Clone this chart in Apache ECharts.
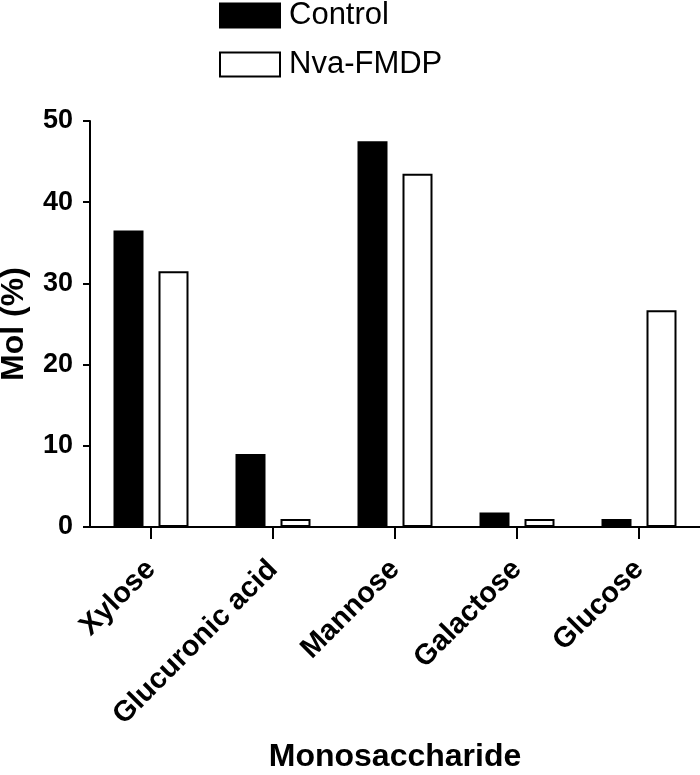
<!DOCTYPE html>
<html>
<head>
<meta charset="utf-8">
<script src="https://cdn.jsdelivr.net/npm/echarts@6/dist/echarts.min.js"></script>
<style>html,body{margin:0;padding:0;background:#fff;}#c{width:700px;height:775px;}</style>
</head>
<body>
<div id="c"></div>
<script>
const categories = ['Xylose', 'Glucuronic acid', 'Mannose', 'Galactose', 'Glucose'];
const controlValues = [36.5, 9.0, 47.5, 1.8, 1.0];
const nvaValues = [31.5, 1.0, 43.5, 1.0, 26.7];
const yTicks = [0, 10, 20, 30, 40, 50];
const seriesNames = ['Control', 'Nva-FMDP'];

const FONT = 'Arial, "Liberation Sans", sans-serif';
const chart = echarts.init(document.getElementById('c'), null, {renderer: 'canvas'});
chart.setOption({
  animation: false,
  backgroundColor: '#fff',
  legend: {
    orient: 'vertical',
    left: 219,
    top: 0,
    padding: 0,
    itemWidth: 60,
    itemHeight: 24,
    itemGap: 18,
    textStyle: {fontFamily: FONT, fontSize: 31, color: '#000', lineHeight: 24, padding: [0, 0, 0, 4]},
    data: [
      {name: seriesNames[0], icon: 'rect', itemStyle: {color: '#000', borderColor: '#000', borderWidth: 2}},
      {name: seriesNames[1], icon: 'rect', itemStyle: {color: '#fff', borderColor: '#000', borderWidth: 2}}
    ]
  },
  grid: {left: 90, right: 0, top: 121, bottom: 248, containLabel: false, outerBoundsMode: 'none'},
  xAxis: {
    type: 'category',
    data: categories,
    axisLine: {lineStyle: {color: '#000', width: 2}},
    axisTick: {show: true, alignWithLabel: true, length: 12, lineStyle: {color: '#000', width: 2}},
    axisLabel: {rotate: 45, margin: 38, fontFamily: FONT, fontWeight: 'bold', fontSize: 29, color: '#000', interval: 0},
    name: 'Monosaccharide',
    nameLocation: 'middle',
    nameGap: 214,
    nameTextStyle: {fontFamily: FONT, fontWeight: 'bold', fontSize: 32, color: '#000'}
  },
  yAxis: {
    type: 'value',
    min: yTicks[0],
    max: yTicks[yTicks.length - 1],
    interval: 10,
    axisLine: {show: true, lineStyle: {color: '#000', width: 2}},
    axisTick: {show: true, length: 7, lineStyle: {color: '#000', width: 2}},
    splitLine: {show: false},
    axisLabel: {margin: 17, fontFamily: FONT, fontWeight: 'bold', fontSize: 27, color: '#000'},
    name: 'Mol (%)',
    nameLocation: 'middle',
    nameGap: 60,
    nameRotate: 90,
    nameTextStyle: {fontFamily: FONT, fontWeight: 'bold', fontSize: 32, color: '#000'}
  },
  series: [
    {name: seriesNames[0], type: 'bar', data: controlValues, barWidth: 30, barGap: '50%',
     itemStyle: {color: '#000', borderColor: '#000', borderWidth: 2}},
    {name: seriesNames[1], type: 'bar', data: nvaValues, barWidth: 30, barGap: '50%',
     itemStyle: {color: '#fff', borderColor: '#000', borderWidth: 2}}
  ]
});
</script>
</body>
</html>
